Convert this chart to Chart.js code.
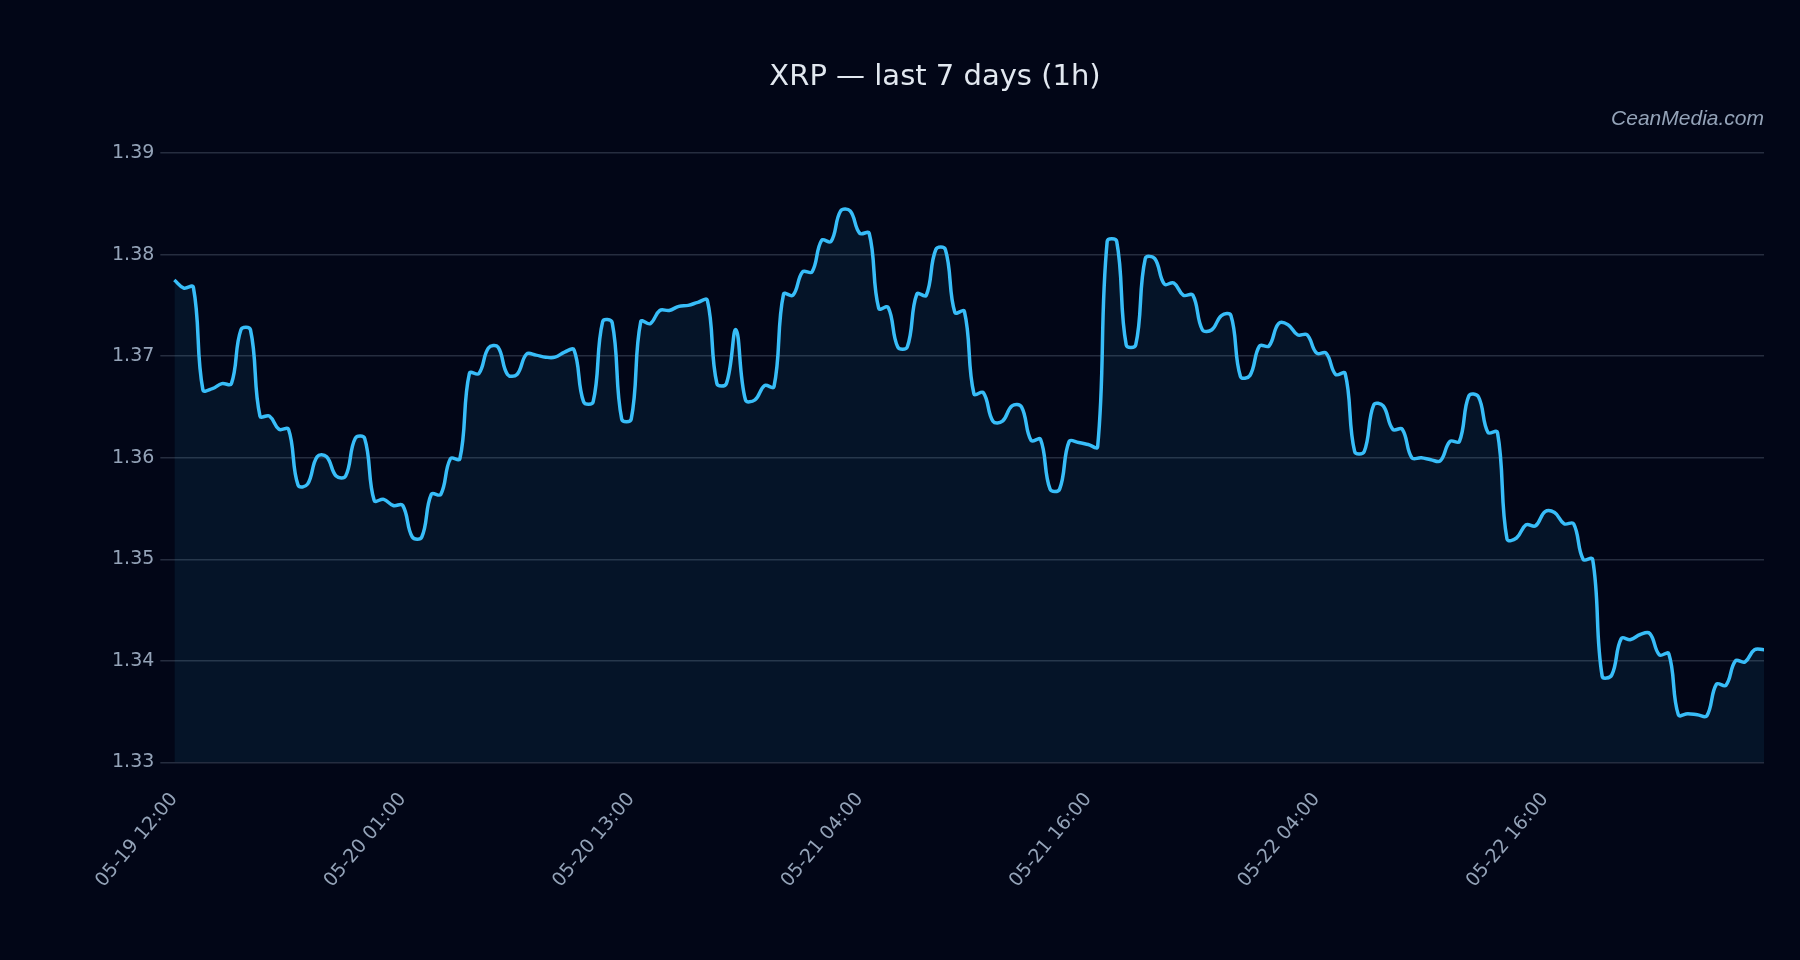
<!DOCTYPE html>
<html>
<head>
<meta charset="utf-8">
<title>XRP — last 7 days (1h)</title>
<script src="https://cdn.jsdelivr.net/npm/chart.js@4.4.1/dist/chart.umd.min.js"></script>
<style>
  html, body { margin: 0; padding: 0; background: #020617; }
  #wrap { width: 1800px; height: 960px; }
</style>
</head>
<body>
<div id="wrap"><canvas id="priceChart"></canvas></div>
<script>
// tick labels shown on the x axis, one every 24 points
const tickLabels = ['05-19 12:00', '05-20 01:00', '05-20 13:00', '05-21 04:00', '05-21 16:00', '05-22 04:00', '05-22 16:00'];
const ticksEvery = 24;

// XRP price
const prices = [
  1.3775, 1.3767, 1.3768, 1.3667, 1.3668, 1.3673, 1.3673, 1.3726, 1.3726, 1.3641,
  1.3641, 1.3628, 1.3628, 1.3573, 1.3574, 1.3601, 1.3601, 1.3582, 1.3582, 1.3619,
  1.3619, 1.3558, 1.3559, 1.3553, 1.3553, 1.3522, 1.3522, 1.3564, 1.3564, 1.3599,
  1.3599, 1.3683, 1.3683, 1.3708, 1.3709, 1.3682, 1.3682, 1.3702, 1.3701, 1.3699,
  1.3699, 1.3704, 1.3706, 1.3655, 1.3655, 1.3734, 1.3733, 1.3638, 1.3638, 1.3734,
  1.3732, 1.3745, 1.3745, 1.3749, 1.3750, 1.3753, 1.3755, 1.3673, 1.3673, 1.3726,
  1.3657, 1.3657, 1.3671, 1.3670, 1.3761, 1.3760, 1.3783, 1.3783, 1.3814, 1.3813,
  1.3843, 1.3843, 1.3821, 1.3821, 1.3747, 1.3748, 1.3709, 1.3709, 1.3761, 1.3760,
  1.3805, 1.3805, 1.3743, 1.3744, 1.3663, 1.3664, 1.3636, 1.3636, 1.3651, 1.3650,
  1.3617, 1.3618, 1.3569, 1.3569, 1.3616, 1.3615, 1.3613, 1.3611, 1.3813, 1.3813,
  1.3711, 1.3711, 1.3796, 1.3796, 1.3771, 1.3772, 1.3760, 1.3760, 1.3726, 1.3726,
  1.3740, 1.3740, 1.3680, 1.3681, 1.3710, 1.3710, 1.3732, 1.3731, 1.3721, 1.3721,
  1.3703, 1.3703, 1.3682, 1.3683, 1.3606, 1.3606, 1.3652, 1.3651, 1.3628, 1.3628,
  1.3600, 1.3600, 1.3598, 1.3597, 1.3616, 1.3616, 1.3661, 1.3660, 1.3625, 1.3625,
  1.3520, 1.3521, 1.3534, 1.3533, 1.3547, 1.3546, 1.3535, 1.3535, 1.3500, 1.3500,
  1.3385, 1.3386, 1.3422, 1.3421, 1.3426, 1.3427, 1.3406, 1.3407, 1.3347, 1.3348,
  1.3347, 1.3346, 1.3377, 1.3376, 1.3400, 1.3399, 1.3411, 1.3411
];

const labels = prices.map((_, i) => (i % ticksEvery === 0 ? tickLabels[i / ticksEvery] : ''));

const tickColor = '#94a3b8';
const gridColor = 'rgba(148, 163, 184, 0.25)';

const ctx = document.getElementById('priceChart').getContext('2d');

new Chart(ctx, {
  type: 'line',
  data: {
    labels: labels,
    datasets: [{
      label: 'XRP',
      data: prices,
      borderColor: '#38bdf8',
      borderWidth: 3.5,
      backgroundColor: 'rgba(56, 189, 248, 0.08)',
      fill: 'start',
      pointRadius: 0,
      tension: 0.4,
    }],
  },
  options: {
    responsive: true,
    maintainAspectRatio: false,
    animation: false,
    layout: {
      padding: { top: 50, right: 36, bottom: 50, left: 106 },
    },
    plugins: {
      legend: { display: false },
      tooltip: { enabled: false },
      title: {
        display: true,
        text: 'XRP — last 7 days (1h)',
        color: '#e2e8f0',
        font: { family: 'DejaVu Sans', size: 29, weight: 'normal' },
        padding: { top: 10, bottom: 10 },
      },
      subtitle: {
        display: true,
        text: 'CeanMedia.com',
        align: 'end',
        color: tickColor,
        font: { family: 'Liberation Sans', size: 21, style: 'italic' },
        padding: { top: 2, bottom: 21 },
      },
    },
    scales: {
      x: {
        grid: { display: false },
        border: { display: false },
        ticks: {
          autoSkip: false,
          minRotation: 50,
          maxRotation: 50,
          color: tickColor,
          padding: 18,
          font: { family: 'DejaVu Sans', size: 19 },
        },
      },
      y: {
        min: 1.33,
        max: 1.39,
        border: { display: false },
        grid: { color: gridColor, lineWidth: 1.5, tickLength: 14 },
        ticks: {
          stepSize: 0.01,
          color: tickColor,
          padding: 6,
          font: { family: 'DejaVu Sans', size: 19 },
          callback: (value) => value.toFixed(2),
        },
      },
    },
  },
});
</script>
</body>
</html>
